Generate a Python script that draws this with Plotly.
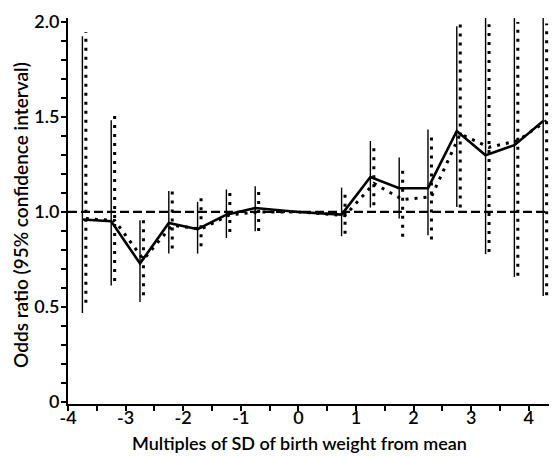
import plotly.graph_objects as go

# Bin centres (multiples of SD); the second series is drawn slightly to the right
x_unadj = [-3.75, -3.25, -2.75, -2.25, -1.75, -1.25, -0.75, 0.0, 0.75, 1.25, 1.75, 2.25, 2.75, 3.25, 3.75, 4.25]
x_adj = [-3.69, -3.19, -2.69, -2.19, -1.69, -1.19, -0.69, 0.06, 0.81, 1.31, 1.81, 2.31, 2.81, 3.31, 3.81, 4.31]

# Solid series (odds ratio and 95% CI)
or_unadj = [0.960, 0.951, 0.729, 0.942, 0.909, 0.986, 1.021, 1.0, 0.986, 1.184, 1.125, 1.125, 1.426, 1.298, 1.351, 1.478]
lo_unadj = [0.469, 0.613, 0.527, 0.781, 0.781, 0.863, 0.899, None, 0.872, 1.023, 0.965, 0.877, 1.026, 0.778, 0.658, 0.558]
hi_unadj = [1.924, 1.482, 0.956, 1.110, 1.053, 1.118, 1.135, None, 1.128, 1.373, 1.286, 1.433, 1.976, 2.05, 2.05, 2.05]

# Dotted series (odds ratio and 95% CI)
or_adj = [0.965, 0.955, 0.750, 0.930, 0.910, 0.985, 1.000, 1.0, 0.980, 1.150, 1.065, 1.080, 1.410, 1.340, 1.375, 1.480]
lo_adj = [0.522, 0.637, 0.562, 0.808, 0.820, 0.895, 0.900, None, 0.886, 1.035, 0.869, 0.855, 1.023, 0.790, 0.664, 0.562]
hi_adj = [1.946, 1.508, 0.977, 1.135, 1.083, 1.131, 1.131, None, 1.118, 1.356, 1.237, 1.412, 1.987, 1.987, 1.999, 1.991]

x_tickvals = [-4, -3, -2, -1, 0, 1, 2, 3, 4]
x_ticktext = ["-4", "-3", "-2", "-1", "0", "1", "2", "3", "4"]
y_tickvals = [0, 0.5, 1.0, 1.5, 2.0]
y_ticktext = ["0", "0.5", "1.0", "1.5", "2.0"]

x_title = "Multiples of SD of birth weight from mean"
y_title = "Odds ratio (95% confidence interval)"


def bar_segments(xs, lo, hi):
    bx, by = [], []
    for x, l, h in zip(xs, lo, hi):
        if l is None or h is None:
            continue
        bx += [x, x, None]
        by += [l, h, None]
    return bx, by


FONT = "Lato"
TICKF = dict(family=FONT, size=18, color="black", weight=600)
XTF = dict(family=FONT, size=18, color="black", weight=600)
YTF = dict(family=FONT, size=19, color="black", weight=600)
fig = go.Figure()

fig.add_hline(y=1.0, line=dict(color="black", width=2.2, dash="9px,4px"))

bx, by = bar_segments(x_unadj, lo_unadj, hi_unadj)
fig.add_trace(go.Scatter(x=bx, y=by, mode="lines", line=dict(color="black", width=1.4),
                         hoverinfo="skip", showlegend=False))
bx2, by2 = bar_segments(x_adj, lo_adj, hi_adj)
fig.add_trace(go.Scatter(x=bx2, y=by2, mode="lines",
                         line=dict(color="black", width=3, dash="3px,6px"),
                         hoverinfo="skip", showlegend=False))

fig.add_trace(go.Scatter(x=x_adj, y=or_adj, mode="lines",
                         line=dict(color="black", width=3, dash="3px,6px"),
                         showlegend=False))
fig.add_trace(go.Scatter(x=x_unadj, y=or_unadj, mode="lines",
                         line=dict(color="black", width=2.6), showlegend=False))

# page body has an 8px margin, so the figure is drawn 8px smaller
fig.update_layout(
    width=549, height=448,
    margin=dict(l=60, r=0, t=10, b=52),
    paper_bgcolor="white", plot_bgcolor="white",
    font=TICKF,
    xaxis=dict(
        range=[-4, 4.49], showgrid=False, zeroline=False, automargin=False,
        showline=True, linecolor="black", linewidth=2,
        tickvals=x_tickvals, ticktext=x_ticktext,
        ticks="outside", ticklen=5, tickwidth=1.5, tickcolor="black",
        minor=dict(dtick=0.5, tick0=0, ticks="outside", ticklen=5, tickwidth=1.5, tickcolor="black"),
        tickfont=TICKF, ticklabelstandoff=-9,
    ),
    yaxis=dict(
        range=[-0.01, 2.02], showgrid=False, zeroline=False, automargin=False,
        showline=True, linecolor="black", linewidth=2,
        tickvals=y_tickvals, ticktext=y_ticktext,
        ticks="outside", ticklen=5, tickwidth=1.5, tickcolor="black",
        minor=dict(dtick=0.1, tick0=0, ticks="outside", ticklen=5, tickwidth=1.5, tickcolor="black"),
        tickfont=TICKF, ticklabelstandoff=-2,
    ),
    annotations=[
        dict(text=x_title, xref="paper", yref="paper", x=0.474, y=-0.101,
             xanchor="center", yanchor="middle", showarrow=False, font=XTF),
        dict(text=y_title, xref="paper", yref="paper", x=-0.096, y=0.49,
             xanchor="center", yanchor="middle", textangle=-90, showarrow=False, font=YTF),
    ],
)

fig.write_html("out.html")
